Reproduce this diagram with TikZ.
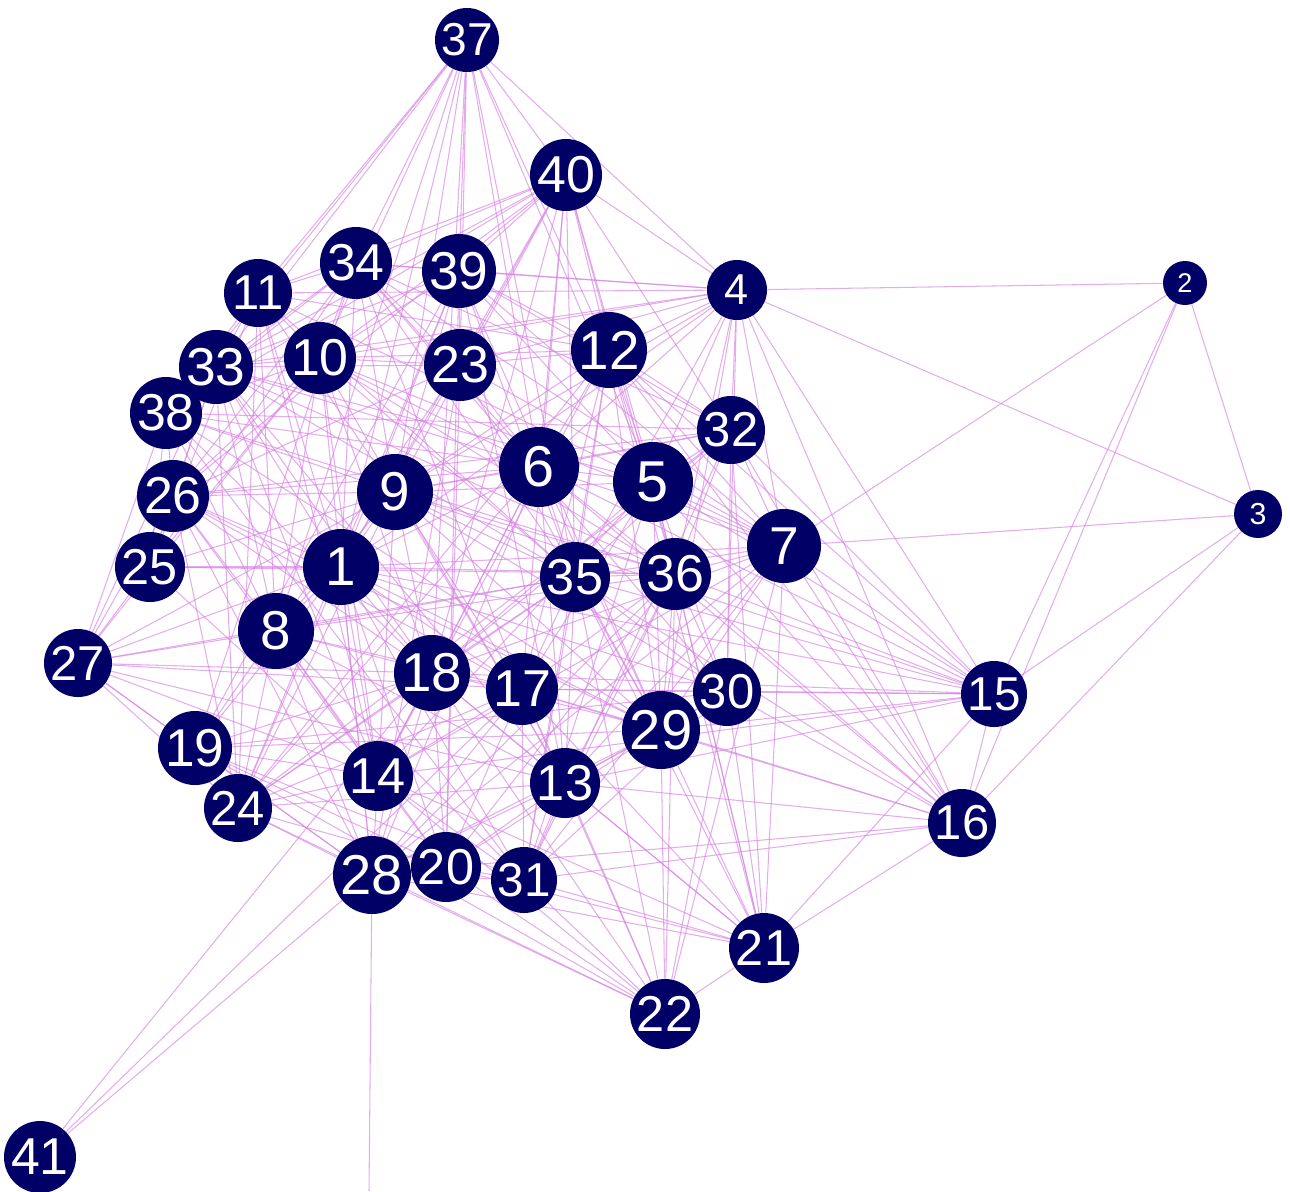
\documentclass[tikz,border=0pt]{standalone}
\usepackage{fontspec}
\setmainfont{Liberation Sans}
\usetikzlibrary{backgrounds}
\definecolor{navy}{RGB}{0,0,102}
\definecolor{edgec}{RGB}{214,128,226}
\tikzset{
  vert/.style={circle, fill=navy, draw=none, inner sep=0pt, text=white},
  edge/.style={draw=edgec, line width=0.6pt, opacity=0.65},
}
\newcommand\nd[5]{%
  \pgfmathsetmacro\dd{2*#4*0.02}%
  \pgfmathsetmacro\fs{#5*#4}%
  \node[vert, minimum size=\dd cm, font=\fontsize{\fs pt}{\fs pt}\selectfont] (n#1) at (#2,#3) {#1};}
\def\corelist{1/341/567, 5/653/482, 6/539/467, 7/784/546, 8/276/631, 9/395/492, 10/320/358, 11/258/293, 12/609/350, 13/565/783, 14/378/776, 17/522/689, 18/432/673, 19/195/748, 20/446/867, 23/460/365, 24/238/808, 25/150/567, 26/173/496, 28/372/875, 29/661/730, 30/727/692, 31/524/880, 32/731/430, 33/216/367, 34/356/263, 35/575/577, 36/675/574, 38/166/413, 39/459/271}
\begin{document}
\begin{tikzpicture}[x=0.02cm, y=-0.02cm]
\useasboundingbox (0,0) rectangle (1290,1191);
\nd{37}{467}{40}{32}{0.82}
\nd{40}{566}{175}{36}{0.82}
\nd{4}{737}{290}{30}{0.82}
\nd{2}{1185}{283}{22}{0.70}
\nd{3}{1258}{514}{24}{0.72}
\nd{11}{258}{293}{34}{0.82}
\nd{34}{356}{263}{36}{0.82}
\nd{39}{459}{271}{37}{0.82}
\nd{10}{320}{358}{36}{0.82}
\nd{23}{460}{365}{36}{0.82}
\nd{12}{609}{350}{38}{0.82}
\nd{33}{216}{367}{37}{0.82}
\nd{38}{166}{413}{36}{0.82}
\nd{32}{731}{430}{34}{0.82}
\nd{6}{539}{467}{40}{0.82}
\nd{5}{653}{482}{40}{0.82}
\nd{9}{395}{492}{38}{0.82}
\nd{26}{173}{496}{36}{0.82}
\nd{7}{784}{546}{37}{0.82}
\nd{25}{150}{567}{35}{0.82}
\nd{1}{341}{567}{38}{0.82}
\nd{35}{575}{577}{35}{0.82}
\nd{36}{675}{574}{36}{0.82}
\nd{8}{276}{631}{38}{0.82}
\nd{27}{78}{663}{34}{0.82}
\nd{18}{432}{673}{38}{0.82}
\nd{17}{522}{689}{36}{0.82}
\nd{30}{727}{692}{34}{0.82}
\nd{15}{994}{694}{33}{0.82}
\nd{29}{661}{730}{39}{0.82}
\nd{19}{195}{748}{37}{0.82}
\nd{14}{378}{776}{35}{0.82}
\nd{13}{565}{783}{35}{0.82}
\nd{24}{238}{808}{34}{0.82}
\nd{16}{962}{823}{34}{0.82}
\nd{28}{372}{875}{39}{0.82}
\nd{20}{446}{867}{35}{0.82}
\nd{31}{524}{880}{33}{0.82}
\nd{21}{764}{948}{35}{0.82}
\nd{22}{665}{1014}{35}{0.82}
\nd{41}{40}{1157}{36}{0.82}
\coordinate (bottom28) at (369,1191);
\begin{pgfonlayer}{background}
\pgfmathsetseed{7}
\foreach \a/\ax/\ay [count=\i] in \corelist {
  \foreach \b/\bx/\by [count=\j] in \corelist {
    \ifnum\j>\i
      \pgfmathsetmacro\rr{rnd}
      \pgfmathsetmacro\pp{1.05-veclen(\ax-\bx,\ay-\by)/700}
      \ifdim\rr pt<\pp pt
        \draw[edge] (n\a) -- (n\b);
      \fi
    \fi
  }
}
\foreach \a/\b in {2/4, 2/7, 2/3, 2/15, 2/16, 3/4, 3/7, 3/15, 3/16,
  15/16, 15/4, 15/7, 15/30, 15/29, 15/36, 15/5, 15/6, 15/35, 15/17, 15/13, 15/18, 15/21, 15/14, 15/12, 15/32, 15/9, 15/1,
  16/4, 16/7, 16/21, 16/30, 16/29, 16/36, 16/5, 16/13, 16/17, 16/31, 16/20, 16/12, 16/32, 16/6, 16/35,
  21/22, 21/7, 21/30, 21/29, 21/36, 21/13, 21/31, 21/20, 21/28, 21/14, 21/17, 21/18, 21/35, 21/5, 21/32, 21/12,
  22/29, 22/30, 22/13, 22/31, 22/20, 22/28, 22/14, 22/17, 22/18, 22/36, 22/35, 22/7, 22/24, 22/19,
  27/25, 27/26, 27/38, 27/33, 27/19, 27/24, 27/8, 27/1, 27/9, 27/18, 27/14, 27/17, 27/35, 27/28, 27/13, 27/10,
  41/17, 41/18, 41/28,
  37/11, 37/34, 37/39, 37/10, 37/23, 37/33, 37/9, 37/6, 37/12, 37/40, 37/4, 37/1, 37/35, 37/5, 37/38, 37/18, 37/8,
  40/34, 40/39, 40/11, 40/10, 40/23, 40/12, 40/6, 40/5, 40/4, 40/9, 40/1, 40/35, 40/36, 40/32, 40/33, 40/38, 40/26, 40/17, 40/18,
  4/39, 4/34, 4/23, 4/12, 4/32, 4/7, 4/5, 4/6, 4/36, 4/35, 4/30, 4/29, 4/10, 4/11, 4/9, 4/1, 4/33}
  \draw[edge] (n\a) -- (n\b);
\draw[edge] (n28) -- (bottom28);
\end{pgfonlayer}
\end{tikzpicture}
\end{document}
